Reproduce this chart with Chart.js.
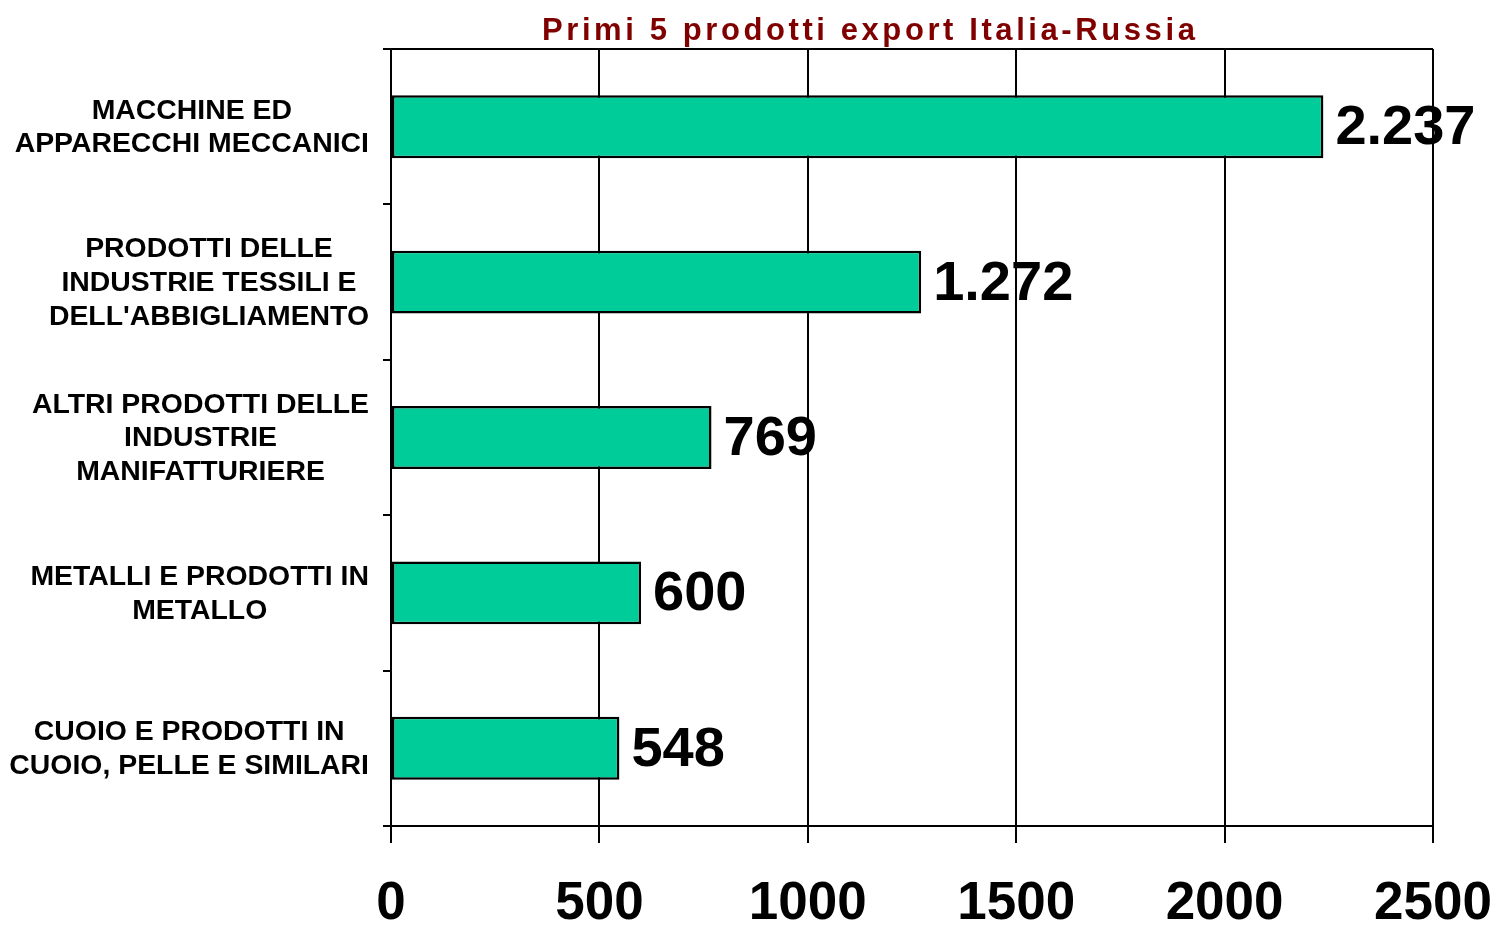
<!DOCTYPE html>
<html>
<head>
<meta charset="utf-8">
<title>Primi 5 prodotti export Italia-Russia</title>
<script src="https://cdn.jsdelivr.net/npm/chart.js@4/dist/chart.umd.min.js"></script>
<style>
  html, body { margin: 0; padding: 0; background: #fff; }
  canvas { display: block; }
</style>
</head>
<body>
<canvas id="chart" width="1501" height="925"></canvas>
<script>
const titleText = 'Primi 5 prodotti export Italia-Russia';

const categories = [
    ['MACCHINE ED', 'APPARECCHI MECCANICI'],
    ['PRODOTTI DELLE', 'INDUSTRIE TESSILI E', "DELL'ABBIGLIAMENTO"],
    ['ALTRI PRODOTTI DELLE', 'INDUSTRIE', 'MANIFATTURIERE'],
    ['METALLI E PRODOTTI IN', 'METALLO'],
    ['CUOIO E PRODOTTI IN', 'CUOIO, PELLE E SIMILARI']
];

const exportValues = [2237, 1272, 769, 600, 548];

const xTicks = [0, 500, 1000, 1500, 2000, 2500];

const FONT = '"Liberation Sans", Arial, sans-serif';

// numero con punto per le migliaia (2.237)
function itNumber(v) {
    return String(v).replace(/\B(?=(\d{3})+(?!\d))/g, '.');
}

const titlePlugin = {
    id: 'spacedTitle',
    afterDraw(chart) {
        const ctx = chart.ctx;
        ctx.save();
        ctx.font = 'bold 31px ' + FONT;
        ctx.fillStyle = '#800000';
        ctx.textAlign = 'left';
        ctx.textBaseline = 'alphabetic';
        // spaziatura per arrivare alla larghezza del titolo originale (542..1195)
        const w = ctx.measureText(titleText).width;
        const sp = (653 - w) / (titleText.length - 1);
        ctx.letterSpacing = sp.toFixed(2) + 'px';
        ctx.fillText(titleText, 542, 40);
        ctx.restore();
    }
};

const categoryLabels = {
    id: 'categoryLabels',
    afterDraw(chart) {
        const ctx = chart.ctx;
        const yScale = chart.scales.y;
        const right = 369;
        const lineH = 33.7;
        ctx.save();
        ctx.font = 'bold 28.4px ' + FONT;
        ctx.fillStyle = '#000';
        ctx.textAlign = 'center';
        ctx.textBaseline = 'middle';
        categories.forEach((lines, i) => {
            const y = yScale.getPixelForTick(i);
            const w = Math.max(...lines.map(l => ctx.measureText(l).width));
            const cx = right - w / 2;
            const y0 = y - (lines.length - 1) * lineH / 2 + 1;
            lines.forEach((l, j) => ctx.fillText(l, cx, y0 + j * lineH));
        });
        ctx.restore();
    }
};

const valueLabels = {
    id: 'valueLabels',
    afterDatasetsDraw(chart) {
        const ctx = chart.ctx;
        const meta = chart.getDatasetMeta(0);
        ctx.save();
        ctx.font = 'bold 56px ' + FONT;
        ctx.fillStyle = '#000';
        ctx.textAlign = 'left';
        ctx.textBaseline = 'middle';
        meta.data.forEach((bar, i) => {
            ctx.fillText(itNumber(exportValues[i]), bar.x + 12, bar.y + 2);
        });
        ctx.restore();
    }
};

new Chart(document.getElementById('chart'), {
    type: 'bar',
    data: {
        labels: categories,
        datasets: [{
            data: exportValues,
            backgroundColor: '#00CC99',
            borderColor: '#000',
            borderWidth: 2.5,
            borderSkipped: false,
            categoryPercentage: 1,
            barPercentage: 0.405
        }]
    },
    options: {
        indexAxis: 'y',
        responsive: false,
        animation: false,
        layout: { padding: { top: 49, right: 68, left: 0, bottom: 0 } },
        plugins: {
            legend: { display: false },
            title: { display: false },
            tooltip: { enabled: false }
        },
        scales: {
            x: {
                min: 0,
                max: 2500,
                afterFit(scale) {
                    scale.height = 99;
                    scale.paddingLeft = 0;
                    scale.paddingRight = 0;
                },
                afterBuildTicks(scale) { scale.ticks = xTicks.map(v => ({ value: v })); },
                grid: {
                    color: '#000',
                    lineWidth: 2,
                    tickLength: 17,
                    tickColor: '#000'
                },
                border: { color: '#000', width: 2 },
                ticks: {
                    color: '#000',
                    padding: 30,
                    font: { family: FONT, size: 53, weight: 'bold', lineHeight: 1.2 },
                    callback: v => String(v)
                }
            },
            y: {
                afterFit(scale) { scale.width = 391; },
                grid: {
                    offset: true,
                    lineWidth: 2,
                    tickLength: 8,
                    tickColor: '#000',
                    color: ctx => (ctx.index === 0 || ctx.type === 'scale') ? '#000' : 'rgba(0,0,0,0)'
                },
                border: { color: '#000', width: 2 },
                ticks: { display: false }
            }
        }
    },
    plugins: [titlePlugin, categoryLabels, valueLabels]
});
</script>
</body>
</html>
